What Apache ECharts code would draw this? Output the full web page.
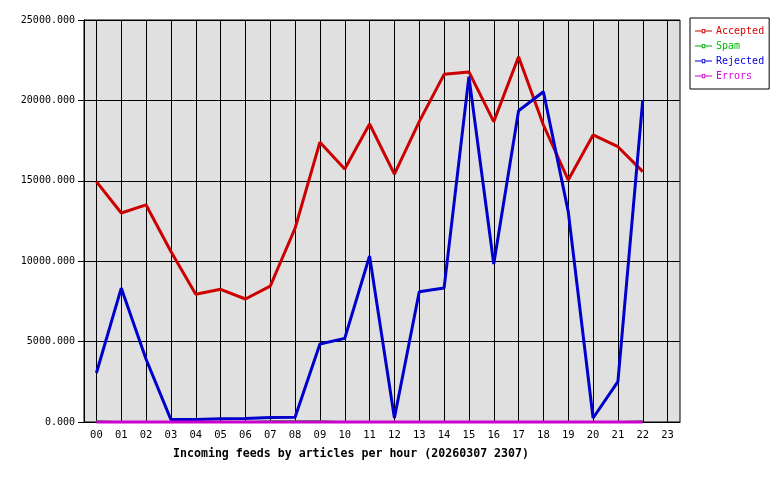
<!DOCTYPE html>
<html>
<head>
<meta charset="utf-8">
<script src="https://cdn.jsdelivr.net/npm/echarts@6/dist/echarts.min.js"></script>
<style>
html,body{margin:0;padding:0;background:#fff;}
#c{width:780px;height:480px;}
</style>
</head>
<body>
<div id="c"></div>
<script>
const hours = ['00','01','02','03','04','05','06','07','08','09','10','11','12','13','14','15','16','17','18','19','20','21','22','23'];
const accepted = [14950, 13000, 13500, 10600, 7950, 8250, 7650, 8450, 12050, 17400, 15730, 18530, 15420, 18680, 21620, 21770, 18680, 22720, 18470, 15050, 17850, 17120, 15570];
const spam = [60, 0, 0, 0, 0, 0, 0, 60, 60, 60, 0, 0, 0, 0, 0, 0, 0, 0, 0, 0, 0, 0, 60];
const rejected = [3050, 8330, 3900, 150, 160, 200, 220, 280, 300, 4850, 5200, 10320, 250, 8100, 8330, 21480, 9830, 19360, 20540, 13080, 250, 2510, 20020];
const errors = [0, 0, 0, 0, 0, 0, 0, 0, 0, 0, 0, 0, 0, 0, 0, 0, 0, 0, 0, 0, 0, 0, 0];
const yTicks = { min: 0, max: 25000, interval: 5000 };
const titleText = 'Incoming feeds by articles per hour (20260307 2307)';

const FONT = '"DejaVu Sans Mono", "Liberation Mono", monospace';
const legendIcon = 'path://M0,4.5 L8,4.5 L8,2.5 L12,2.5 L12,4.5 L20,4.5 L20,5.5 L12,5.5 L12,7.5 L8,7.5 L8,5.5 L0,5.5 Z M9,3.5 L9,6.5 L11,6.5 L11,3.5 Z';

const chart = echarts.init(document.getElementById('c'), null, {renderer: 'canvas'});
function mk(name, data, color, width, noClip) {
  return {
    name: name, type: 'line', data: data, showSymbol: false, symbol: 'none',
    lineStyle: {color: color, width: width}, itemStyle: {color: color},
    animation: false, z: 3, clip: !noClip
  };
}
chart.setOption({
  animation: false,
  backgroundColor: '#ffffff',
  title: {
    text: titleText, left: 346, top: 443, textAlign: 'center',
    textStyle: {fontFamily: FONT, fontSize: 11.6, fontWeight: 'bold', color: '#000'}
  },
  legend: {
    orient: 'vertical', left: 690, top: 18, width: 80,
    padding: [8, 5, 8, 5], itemGap: 5, itemWidth: 17, itemHeight: 10,
    borderColor: '#000', borderWidth: 1, backgroundColor: '#fff',
    icon: legendIcon,
    data: [
      {name: 'Accepted', textStyle: {color: '#dd0000'}},
      {name: 'Spam', textStyle: {color: '#00bb00'}},
      {name: 'Rejected', textStyle: {color: '#0000dd'}},
      {name: 'Errors', textStyle: {color: '#dd00dd'}}
    ],
    textStyle: {fontFamily: FONT, fontSize: 10, padding: [0, 0, 0, -1]}
  },
  grid: {
    left: 84, top: 20, right: 100, bottom: 58, show: true,
    backgroundColor: '#e0e0e0', borderColor: '#000', borderWidth: 1
  },
  xAxis: {
    type: 'category', data: hours, boundaryGap: true,
    axisLine: {lineStyle: {color: '#000', width: 1}},
    axisTick: {alignWithLabel: true, length: 5, lineStyle: {color: '#000'}},
    axisLabel: {fontFamily: FONT, fontSize: 10.5, color: '#000', margin: 8, interval: 0},
    splitLine: {show: true, alignWithLabel: true, interval: 0, lineStyle: {color: '#000', width: 1}}
  },
  yAxis: {
    type: 'value', min: yTicks.min, max: yTicks.max, interval: yTicks.interval,
    axisLine: {show: true, lineStyle: {color: '#000'}},
    axisTick: {show: true, length: 6, lineStyle: {color: '#000'}},
    axisLabel: {fontFamily: FONT, fontSize: 10, color: '#000', margin: 9,
      formatter: v => v.toFixed(3)},
    splitLine: {show: true, lineStyle: {color: '#000', width: 1}}
  },
  series: [
    mk('Accepted', accepted, '#cc0000', 3),
    mk('Spam', spam, '#00aa00', 1.5, true),
    mk('Rejected', rejected, '#0000cc', 3),
    mk('Errors', errors, '#cc00cc', 3, true)
  ]
});
</script>
</body>
</html>
